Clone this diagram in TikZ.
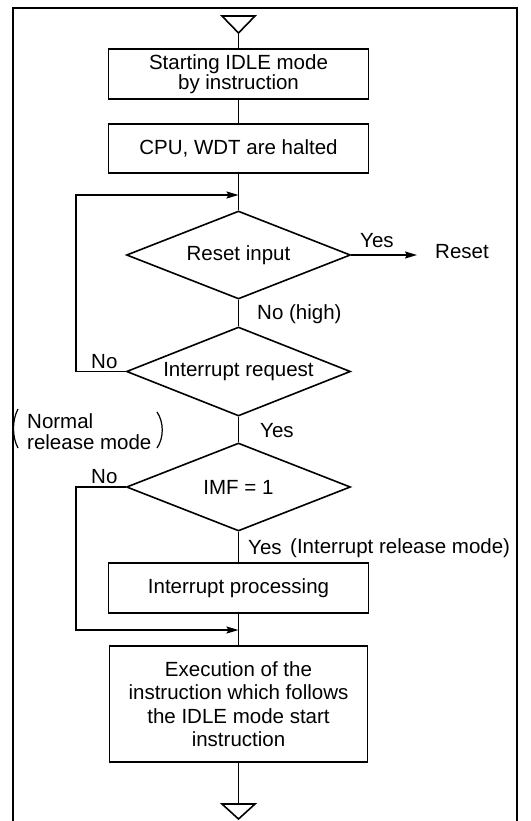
\documentclass[tikz,border=0pt]{standalone}
\usepackage{fontspec}
\setmainfont{Liberation Sans}
\usetikzlibrary{shapes.geometric,arrows.meta}
\begin{document}
\begin{tikzpicture}[x=1pt,y=-1pt,
  every node/.style={font=\fontsize{20.5}{23}\selectfont},
  proc/.style={draw,line width=1.8pt,minimum width=260pt,inner sep=0pt,align=center},
  dec/.style={draw,diamond,line width=1.6pt,inner sep=0pt,minimum width=224pt,minimum height=88pt,aspect=2.5},
  conn/.style={line width=1.6pt},
  arr/.style={conn,-{Stealth[length=12pt,width=7pt,inset=2pt]}},
  lbl/.style={inner sep=0pt},
  term/.style={line width=1.6pt,line join=miter},
  paren/.style={line width=1.2pt}
]
\useasboundingbox (0,0) rectangle (530,821);
% frame
\draw[line width=1.6pt] (13,821) -- (13,8) -- (517,8) -- (517,821);

% start terminal
\draw[term] (222,16) -- (255,16) -- (238.5,33) -- cycle;
\coordinate (topin) at (238.5,33);

\node[proc,minimum height=50pt,font=\fontsize{20.5}{20}\selectfont] (b1) at (238.5,74) {Starting IDLE mode\\by instruction};
\node[proc,minimum height=49pt] (b2) at (238.5,148.5) {CPU, WDT are halted};
\node[dec] (d1) at (238.5,255) {Reset input};
\node[dec,minimum height=89pt] (d2) at (238.5,371.5) {Interrupt request};
\node[dec] (d3) at (238.5,487) {IMF = 1};
\node[proc,minimum height=50pt] (b3) at (238.5,588) {Interrupt processing};
\node[proc,minimum height=116pt,minimum width=258pt,font=\fontsize{20.5}{23.5}\selectfont] (b4) at (238.5,704) {Execution of the\\instruction which follows\\the IDLE mode start\\instruction};

% end terminal
\draw[term] (222,804) -- (255,804) -- (238.5,819) -- cycle;
\coordinate (endin) at (238.5,804);

% coordinates for connectors
\coordinate (loop1) at (238.5,195);
\coordinate (loop1c) at (76,195);
\coordinate (loop1b) at (76,371.5);
\coordinate (loop2) at (238.5,630);
\coordinate (loop2c) at (76,630);
\coordinate (loop2b) at (76,487);
\coordinate (resetin) at (417,255);

% connectors
\draw[conn] (topin) -- (b1.north);
\draw[conn] (b1.south) -- (b2.north);
\draw[conn] (b2.south) -- (d1.north);
\draw[arr] (d1.east) -- (resetin);
\draw[conn] (d1.south) -- (d2.north);
\draw[arr] (d2.west) -- (loop1b) -- (loop1c) -- (loop1);
\draw[conn] (d2.south) -- (d3.north);
\draw[conn] (d3.south) -- (b3.north);
\draw[conn] (b3.south) -- (b4.north);
\draw[arr] (d3.west) -- (loop2b) -- (loop2c) -- (loop2);
\draw[conn] (b4.south) -- (endin);

% labels
\node[lbl,anchor=west] (yes1) at (360,241) {Yes};
\node[lbl,anchor=west] (reset) at (435,252) {Reset};
\node[lbl,anchor=west] (nohigh) at (257,314) {No (high)};
\node[lbl,anchor=west] (no1) at (91,362) {No};
\node[lbl,anchor=west] (yes2) at (260,431) {Yes};
\node[lbl,anchor=west,align=left,font=\fontsize{20.5}{21}\selectfont] (normal) at (27,432) {Normal\\release mode};
\draw[paren] (18,409) .. controls (12,420) and (12,437) .. (18,448);
\draw[paren] (157,412) .. controls (164,422) and (164,438) .. (157,448);
\node[lbl,anchor=west] (no2) at (91,477) {No};
\node[lbl,anchor=west] (yes3) at (248,548) {Yes};
\node[lbl,anchor=west] (irm) at (290,548) {(Interrupt release mode)};
\end{tikzpicture}
\end{document}
